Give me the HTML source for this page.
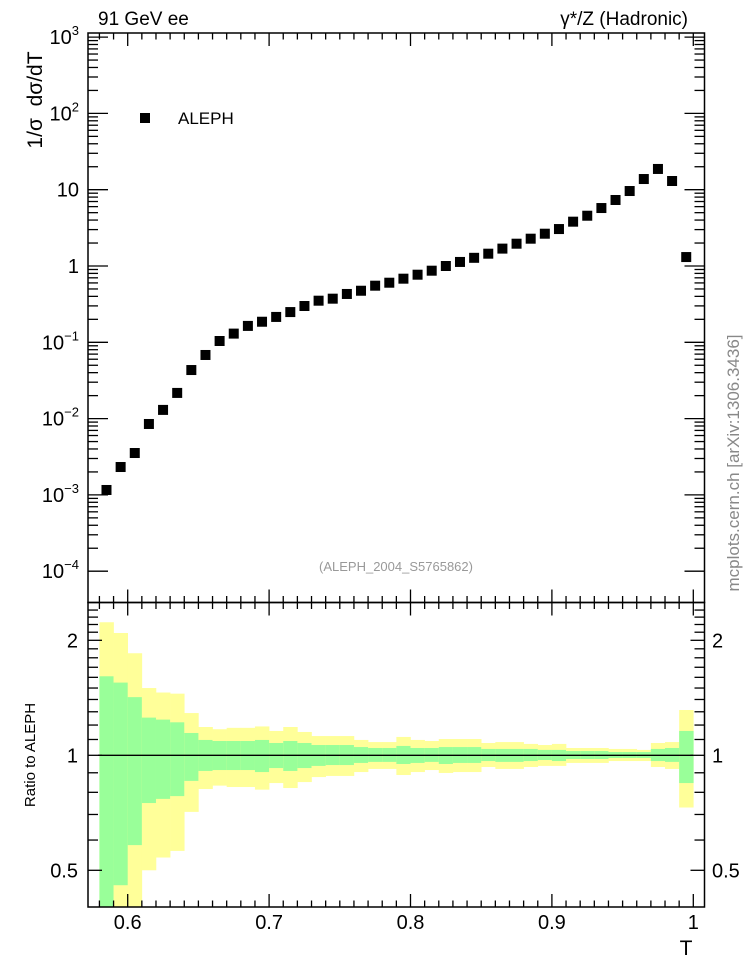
<!DOCTYPE html>
<html><head><meta charset="utf-8"><style>
html,body{margin:0;padding:0;background:#fff;}
svg{display:block;font-family:"Liberation Sans",Arial,sans-serif;}
</style></head><body>
<svg id="chart" width="746" height="972" viewBox="0 0 746 972" xmlns="http://www.w3.org/2000/svg">
<defs><clipPath id="rclip"><rect x="88" y="603" width="616.5" height="304"/></clipPath></defs>
<g id="bands" clip-path="url(#rclip)"></g>
<g id="ticks"></g>
<g id="pts"></g>
<rect x="88" y="33" width="616.5" height="569.5" fill="none" stroke="#000" stroke-width="1.5"/>
<rect x="88" y="602.5" width="616.5" height="304.5" fill="none" stroke="#000" stroke-width="1.5"/>
<line x1="98" y1="755.3" x2="693" y2="755.3" stroke="#000" stroke-width="1.3"/>
<text x="98" y="25" font-size="19">91 GeV ee</text>
<text x="688" y="25" font-size="19" text-anchor="end">γ*/Z (Hadronic)</text>
<text transform="translate(42,100) rotate(-90)" font-size="21" text-anchor="middle">1/σ&#160;&#160;dσ/dT</text>
<text transform="translate(35,755) rotate(-90)" font-size="15" text-anchor="middle">Ratio to ALEPH</text>
<text transform="translate(739,463) rotate(-90)" font-size="17" fill="#888" text-anchor="middle">mcplots.cern.ch [arXiv:1306.3436]</text>
<text x="396" y="571" font-size="13" fill="#999" text-anchor="middle">(ALEPH_2004_S5765862)</text>
<rect x="140" y="113" width="10" height="10" fill="#000"/>
<text x="178" y="124" font-size="17">ALEPH</text>
<text x="686" y="955" font-size="21" text-anchor="middle">T</text>
<g id="labels"></g>
</svg>
<script>
const binLo = [0.58,0.59,0.60,0.61,0.62,0.63,0.64,0.65,0.66,0.67,0.68,0.69,0.70,0.71,0.72,0.73,0.74,0.75,0.76,0.77,0.78,0.79,0.80,0.81,0.82,0.83,0.84,0.85,0.86,0.87,0.88,0.89,0.90,0.91,0.92,0.93,0.94,0.95,0.96,0.97,0.98,0.99];
const alephValues = [0.00116,0.00232,0.00354,0.0085,0.013,0.0217,0.0433,0.0682,0.104,0.130,0.164,0.186,0.215,0.249,0.299,0.351,0.373,0.430,0.474,0.552,0.604,0.682,0.769,0.868,1.0,1.13,1.28,1.45,1.69,1.96,2.28,2.65,3.05,3.81,4.56,5.75,7.33,9.61,13.8,18.7,13.0,1.31];
const yellowHi = [2.23,2.09,1.85,1.50,1.46,1.45,1.29,1.186,1.17,1.18,1.18,1.19,1.158,1.186,1.151,1.123,1.123,1.123,1.097,1.083,1.083,1.117,1.097,1.090,1.103,1.103,1.103,1.077,1.083,1.083,1.071,1.064,1.071,1.045,1.045,1.045,1.039,1.039,1.033,1.077,1.083,1.314];
const greenHi = [1.61,1.55,1.42,1.255,1.24,1.22,1.144,1.097,1.09,1.09,1.09,1.097,1.077,1.090,1.077,1.064,1.064,1.064,1.051,1.045,1.045,1.058,1.045,1.045,1.051,1.051,1.051,1.039,1.039,1.039,1.039,1.033,1.033,1.026,1.026,1.026,1.020,1.020,1.020,1.039,1.045,1.158];
const greenLo = [0.30,0.457,0.582,0.75,0.769,0.782,0.857,0.910,0.915,0.915,0.915,0.904,0.926,0.910,0.926,0.938,0.943,0.943,0.955,0.961,0.961,0.949,0.955,0.961,0.949,0.955,0.955,0.966,0.961,0.961,0.966,0.972,0.966,0.978,0.978,0.978,0.984,0.984,0.984,0.966,0.961,0.846];
const yellowLo = [0.20,0.30,0.30,0.50,0.54,0.562,0.711,0.816,0.833,0.826,0.826,0.813,0.846,0.821,0.851,0.877,0.883,0.883,0.904,0.921,0.921,0.888,0.904,0.915,0.899,0.904,0.904,0.932,0.921,0.921,0.932,0.938,0.938,0.955,0.955,0.955,0.966,0.966,0.966,0.932,0.921,0.73];
const binWidth = 0.01;
const xTickLabels = ["0.6","0.7","0.8","0.9","1"];
const xTickValues = [0.6,0.7,0.8,0.9,1.0];
const yDecades = [-4,-3,-2,-1,0,1,2,3];
const ratioTickValues = [0.5,1,2];
const ratioTickLabels = ["0.5","1","2"];

const NS="http://www.w3.org/2000/svg";
const X0=88, X1=704.5, TT=33, TB=602.5, RB=907;
function xs(t){return 127.7+(t-0.6)*1414;}
function yTop(v){return 266-76.3*Math.log10(v);}
function yR(r){return 755.3-382*Math.log10(r);}
function mk(tag,attrs,parent){const e=document.createElementNS(NS,tag);for(const k in attrs)e.setAttribute(k,attrs[k]);parent.appendChild(e);return e;}
const bands=document.getElementById('bands'),ticks=document.getElementById('ticks'),pts=document.getElementById('pts'),labels=document.getElementById('labels');
function clampR(y){return Math.max(600,Math.min(910,y));}
for(let i=0;i<binLo.length;i++){
  const xa=xs(binLo[i]),xb=xs(binLo[i]+binWidth);
  const ya=clampR(yR(yellowHi[i])),yb=clampR(yR(yellowLo[i]));
  const r=mk('rect',{x:xa,y:ya,width:xb-xa+0.3,height:yb-ya,fill:'#ffff99'},bands);
  
  
  const ga=clampR(yR(greenHi[i])),gb=clampR(yR(greenLo[i]));
  const g=mk('rect',{x:xa,y:ga,width:xb-xa+0.3,height:gb-ga,fill:'#99ff99'},bands);
  
  
}
for(let i=0;i<binLo.length;i++){
  const cx=xs(binLo[i]+binWidth/2),cy=yTop(alephValues[i]);
  const p=mk('rect',{x:cx-5,y:cy-5,width:10,height:10,fill:'#000'},pts);
  
  
}
function line(x1,y1,x2,y2){mk('line',{x1:x1,y1:y1,x2:x2,y2:y2,stroke:'#000','stroke-width':1.3},ticks);}
for(let k=58;k<=100;k++){
  const t=k/100,x=xs(t);
  if(x<X0||x>X1)continue;
  const major=(k%10===0),L=major?13:6.5;
  line(x,RB,x,RB-L); line(x,TB,x,TB-L); line(x,TB,x,TB+L); line(x,TT,x,TT+L);
}
for(const d of yDecades){
  for(let m=1;m<=9;m++){
    const v=m*Math.pow(10,d),y=yTop(v);
    if(y<TT||y>TB)continue;
    const L=m===1?20:10;
    line(X0,y,X0+L,y); line(X1,y,X1-L,y);
  }
}
const mins=[0.4,0.6,0.7,0.8,0.9,1.1,1.2,1.3,1.4,1.5,1.6,1.7,1.8,1.9,2.1,2.2,2.3,2.4];
for(const r of mins){const y=yR(r);if(y<TB||y>RB)continue;line(X0,y,X0+10,y);line(X1,y,X1-10,y);}
for(const r of ratioTickValues){const y=yR(r);line(X0,y,X0+14,y);line(X1,y,X1-14,y);}
xTickValues.forEach((t,i)=>{
  const e=mk('text',{x:xs(t),y:929,'font-size':20,'text-anchor':'middle'},labels);
  e.textContent=xTickLabels[i];
  
  
});
for(const d of yDecades){
  const y=yTop(Math.pow(10,d));
  const e=mk('text',{x:79,y:y+7,'font-size':20,'text-anchor':'end'},labels);
  
  
  if(d===0)e.textContent='1';
  else if(d===1)e.textContent='10';
  else{
    const b=document.createElementNS(NS,'tspan');b.textContent='10';e.appendChild(b);
    const s=document.createElementNS(NS,'tspan');s.setAttribute('dy','-9');s.setAttribute('font-size','13');s.textContent=(d<0?'\u2212':'')+Math.abs(d);e.appendChild(s);
  }
}
ratioTickValues.forEach((r,i)=>{
  const y=yR(r)+7;
  const a=mk('text',{x:78,y:y,'font-size':20,'text-anchor':'end'},labels);
  a.textContent=ratioTickLabels[i];
  
  
  const b=mk('text',{x:712,y:y,'font-size':20,'text-anchor':'start'},labels);
  b.textContent=ratioTickLabels[i];
  
  
});
</script>
</body></html>
